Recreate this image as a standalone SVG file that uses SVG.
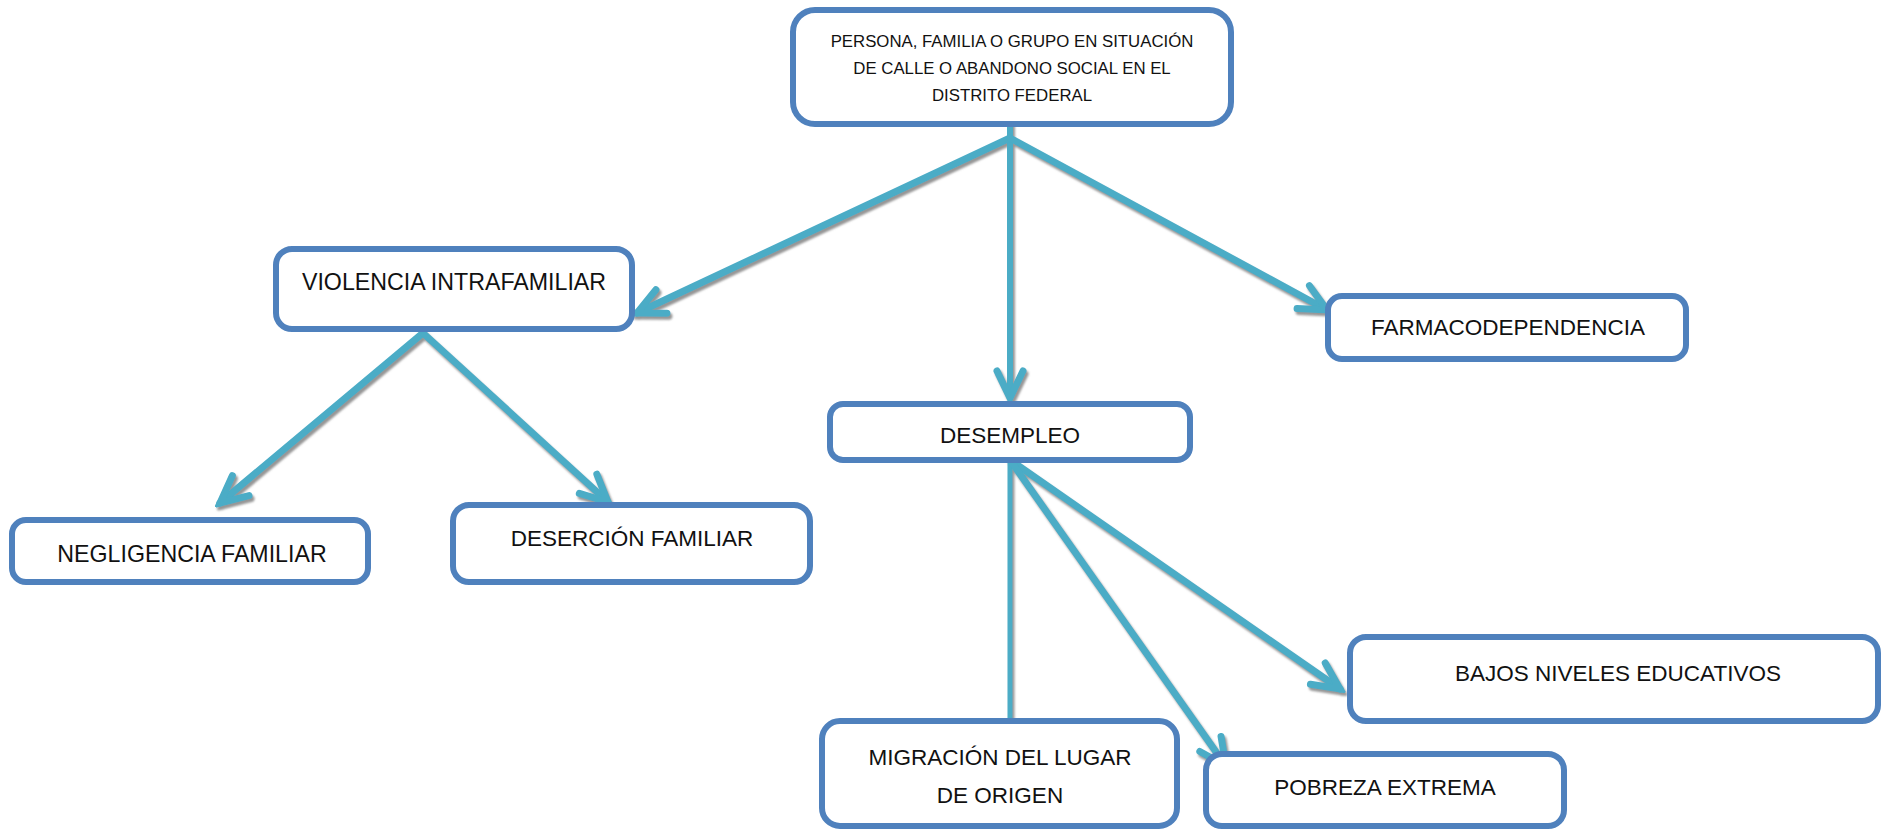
<svg xmlns="http://www.w3.org/2000/svg" width="1881" height="830" viewBox="0 0 1881 830">
<style>
.box{fill:#ffffff;stroke:#4F81BD;stroke-width:6}
.lbl{font-family:"Liberation Sans","Open Sans",Arial,sans-serif;font-size:22.5px;fill:#111;text-anchor:middle}
.small{font-size:16.8px}
.big{font-size:23.2px}
.con{fill:none;stroke:#4BACC6;stroke-width:7;stroke-linecap:round}
</style>
<defs>
<marker id="open" markerUnits="userSpaceOnUse" markerWidth="40" markerHeight="40" viewBox="-34 -20 40 40" refX="0" refY="0" orient="auto">
<path d="M-27,-13 L0,0 L-27,13" fill="none" stroke="#4BACC6" stroke-width="7" stroke-linecap="round" stroke-linejoin="miter"/>
</marker>
<filter id="sh" x="-10%" y="-10%" width="120%" height="120%">
<feDropShadow dx="2" dy="3" stdDeviation="0.8" flood-color="#8a8a8a" flood-opacity="0.9"/>
</filter>
</defs>
<rect width="1881" height="830" fill="#ffffff"/>
<g id="connectors" filter="url(#sh)">
<line class="con" x1="1010" y1="124" x2="1010" y2="398" marker-end="url(#open)" style="stroke-width:6"/>
<line class="con" x1="1010" y1="138" x2="637" y2="313" marker-end="url(#open)"/>
<line class="con" x1="1010" y1="138" x2="1327" y2="310" marker-end="url(#open)"/>
<line class="con" x1="423" y1="333" x2="220" y2="503" marker-end="url(#open)"/>
<line class="con" x1="423" y1="333" x2="608" y2="502" marker-end="url(#open)"/>
<line class="con" x1="1010" y1="460" x2="1010" y2="722" style="stroke-width:5"/>
<line class="con" x1="1010" y1="460" x2="1340" y2="689" marker-end="url(#open)"/>
<line class="con" x1="1010" y1="460" x2="1226" y2="766" marker-end="url(#open)"/>
</g>
<g id="n-top">
<rect class="box" x="793" y="10" width="438" height="114" rx="22"/>
<text class="lbl small" x="1012" y="47">PERSONA, FAMILIA O GRUPO EN SITUACIÓN</text>
<text class="lbl small" x="1012" y="74">DE CALLE O ABANDONO SOCIAL EN EL</text>
<text class="lbl small" x="1012" y="101">DISTRITO FEDERAL</text>
</g>
<g id="n-violencia">
<rect class="box" x="276" y="249" width="356" height="80" rx="16"/>
<text class="lbl big" x="454" y="290">VIOLENCIA INTRAFAMILIAR</text>
</g>
<g id="n-farmaco">
<rect class="box" x="1328" y="296" width="358" height="63" rx="14"/>
<text class="lbl" x="1508" y="335">FARMACODEPENDENCIA</text>
</g>
<g id="n-desempleo">
<rect class="box" x="830" y="404" width="360" height="56" rx="13"/>
<text class="lbl" x="1010" y="443">DESEMPLEO</text>
</g>
<g id="n-negligencia">
<rect class="box" x="12" y="520" width="356" height="62" rx="14"/>
<text class="lbl big" x="192" y="562">NEGLIGENCIA FAMILIAR</text>
</g>
<g id="n-desercion">
<rect class="box" x="453" y="505" width="357" height="77" rx="16"/>
<text class="lbl" x="632" y="546">DESERCIÓN FAMILIAR</text>
</g>
<g id="n-bajos">
<rect class="box" x="1350" y="637" width="528" height="84" rx="16"/>
<text class="lbl" x="1618" y="681">BAJOS NIVELES EDUCATIVOS</text>
</g>
<g id="n-migracion">
<rect class="box" x="822" y="721" width="355" height="105" rx="18"/>
<text class="lbl" x="1000" y="765">MIGRACIÓN DEL LUGAR</text>
<text class="lbl" x="1000" y="803">DE ORIGEN</text>
</g>
<g id="n-pobreza">
<rect class="box" x="1206" y="754" width="358" height="72" rx="16"/>
<text class="lbl" x="1385" y="795">POBREZA EXTREMA</text>
</g>
</svg>
